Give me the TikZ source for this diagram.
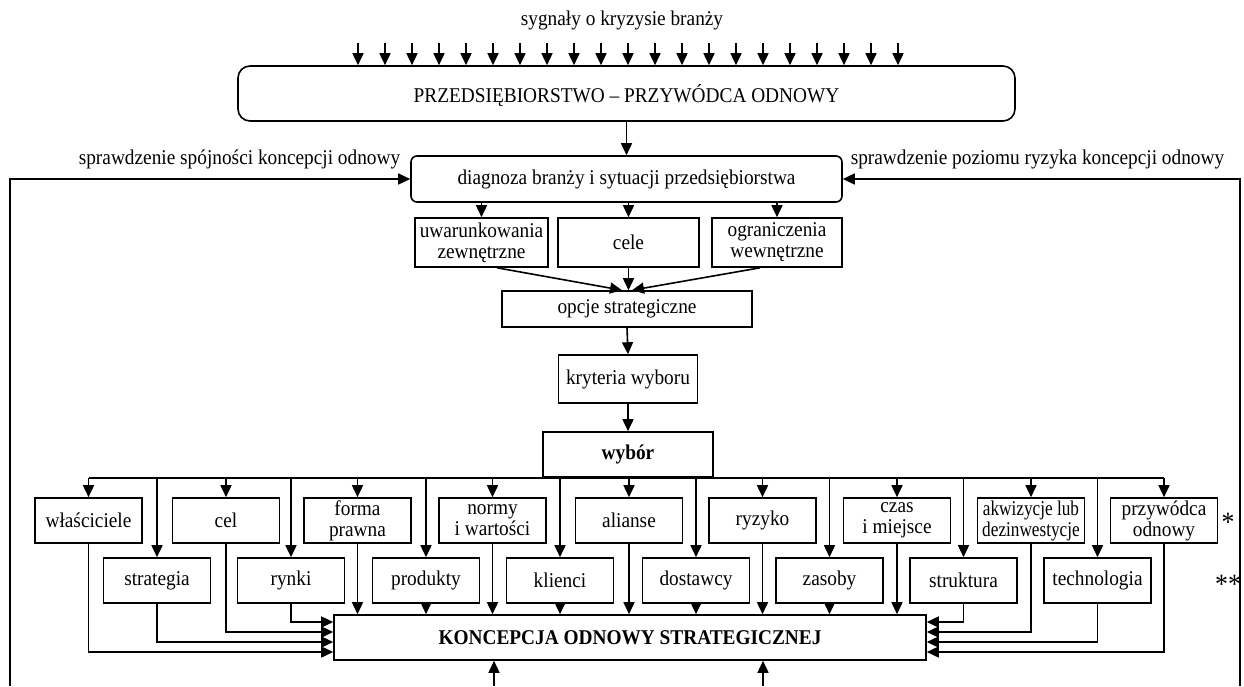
\documentclass[tikz,border=0pt]{standalone}
\usepackage{fontspec}
\setmainfont[FakeStretch=0.92]{Liberation Serif}
\newfontfamily\narrowserif[FakeStretch=0.82]{Liberation Serif}
\usetikzlibrary{arrows.meta}
\begin{document}
\begin{tikzpicture}[x=1pt,y=-1pt,
  font=\fontsize{21}{21}\selectfont,
  line width=1.6pt,
  arr/.style={-{Triangle[length=12pt,width=11pt]}},
  box/.style={draw, rectangle, inner sep=0pt, align=center},
  cell/.style={box, minimum width=107pt, minimum height=45pt},
  label/.style={inner sep=0pt},
]
\useasboundingbox (0,0) rectangle (1244,686);

% --- upper part
\node[label] (title) at (622,20) {sygnały o kryzysie branży};
\node[box, rounded corners=12pt, minimum width=777pt, minimum height=55pt, text depth=0pt] (top) at (626.5,93.5)
  {PRZEDSIĘBIORSTWO – PRZYWÓDCA ODNOWY};
\node[box, rounded corners=6pt, minimum width=431pt, minimum height=46pt] (diag) at (626.5,179)
  {diagnoza branży i sytuacji przedsiębiorstwa};
\node[label, anchor=east] (lblL) at (401,159) {sprawdzenie spójności koncepcji odnowy};
\node[label, anchor=west] (lblR) at (850,159) {sprawdzenie poziomu ryzyka koncepcji odnowy};

\node[box, minimum width=133pt, minimum height=49pt] (uw) at (481.5,242.5) {uwarunkowania\\zewnętrzne};
\node[box, minimum width=141pt, minimum height=49pt] (cele) at (628.5,242.5) {cele};
\node[box, minimum width=130pt, minimum height=49pt] (ogr) at (777,242.5) {ograniczenia\\wewnętrzne};
\node[box, minimum width=250pt, minimum height=36pt] (opcje) at (627,309) {opcje strategiczne};
\node[box, minimum width=139pt, minimum height=48pt] (kryt) at (628,379) {kryteria wyboru};
\node[box, minimum width=170pt, minimum height=45pt] (wyb) at (628,454.5) {\textbf{wybór}};

% --- elements of the renewal concept: upper row
\node[cell] (wl)    at (88.5,520.5)  {właściciele};
\node[cell] (cel)   at (226,520.5)   {cel};
\node[cell] (forma) at (357.5,520.5) {forma\\prawna};
\node[cell] (normy) at (492.5,520.5) {normy\\i wartości};
\node[cell] (al)    at (629,520.5)   {alianse};
\node[cell] (ryz)   at (762.5,520.5) {ryzyko};
\node[cell] (czas)  at (897,520.5)   {czas\\i miejsce};
\node[cell, font={\narrowserif\fontsize{21}{21}\selectfont}] (akw) at (1031,520.5) {akwizycje lub\\dezinwestycje};
\node[cell] (prz)   at (1164,520.5)  {przywódca\\odnowy};
% lower row
\node[cell] (strat) at (157,580.5)    {strategia};
\node[cell] (ryn)   at (291,580.5)    {rynki};
\node[cell] (prod)  at (426,580.5)    {produkty};
\node[cell] (kl)    at (560,580.5)    {klienci};
\node[cell] (dost)  at (696,580.5)    {dostawcy};
\node[cell] (zas)   at (829.5,580.5)  {zasoby};
\node[cell] (str)   at (963.5,580.5)  {struktura};
\node[cell] (tech)  at (1097.5,580.5) {technologia};

\node[label, font=\fontsize{28}{28}\selectfont] (ast1) at (1228,522) {*};
\node[label, font=\fontsize{28}{28}\selectfont] (ast2) at (1228,584) {**};

\node[box, minimum width=592pt, minimum height=45pt] (konc) at (630,637.5)
  {\textbf{KONCEPCJA ODNOWY STRATEGICZNEJ}};

% --- connectors
\foreach \i in {0,...,20} {
  \coordinate (sg\i) at ({358+27*\i},43);
  \draw[arr] (sg\i) -- (sg\i |- top.north);
}
\draw[arr] (top.south) -- (diag.north);
\foreach \n in {uw,ogr} \draw[arr] (diag.south -| \n.north) -- (\n.north);
\draw[arr] (diag.south -| cele.north) -- (cele.north);

\draw[arr] ([xshift=15.5pt]uw.south) -- ([xshift=-5pt]opcje.north);
\draw[arr] (cele.south) -- (cele.south |- opcje.north);
\draw[arr] ([xshift=-17pt]ogr.south) -- ([xshift=5pt]opcje.north);
\draw[arr] (opcje.south) -- (kryt.north);
\draw[arr] (kryt.south) -- (wyb.north);

% distribution bar under "wybór"
\draw (wyb.south -| wl.north) -- (wyb.south -| prz.north);
\foreach \n in {wl,strat,cel,ryn,forma,prod,normy,kl,al,dost,ryz,zas,czas,str,akw,tech,prz}
  \draw[arr] (wyb.south -| \n.north) -- (\n.north);

% inputs to the concept box
\foreach \n in {forma,prod,normy,kl,al,dost,ryz,zas,czas}
  \draw[arr] (\n.south) -- (\n.south |- konc.north);
\draw[arr] (ryn.south)   |- ([yshift=15.5pt]konc.west);
\draw[arr] (cel.south)   |- ([yshift=5.5pt]konc.west);
\draw[arr] (strat.south) |- ([yshift=-4.5pt]konc.west);
\draw[arr] (wl.south)    |- ([yshift=-14.5pt]konc.west);
\draw[arr] (str.south)   |- ([yshift=15.5pt]konc.east);
\draw[arr] (akw.south)   |- ([yshift=5.5pt]konc.east);
\draw[arr] (tech.south)  |- ([yshift=-4.5pt]konc.east);
\draw[arr] (prz.south)   |- ([yshift=-14.5pt]konc.east);

% feedback loops and lower inputs
\coordinate (fbl) at (10,686);
\coordinate (fbr) at (1240,686);
\draw[arr] (fbl) |- (diag.west);
\draw[arr] (fbr) |- (diag.east);
\coordinate (bu1) at (494,686);
\coordinate (bu2) at (763,686);
\draw[arr] (bu1) -- (bu1 |- konc.south);
\draw[arr] (bu2) -- (bu2 |- konc.south);
\end{tikzpicture}
\end{document}
